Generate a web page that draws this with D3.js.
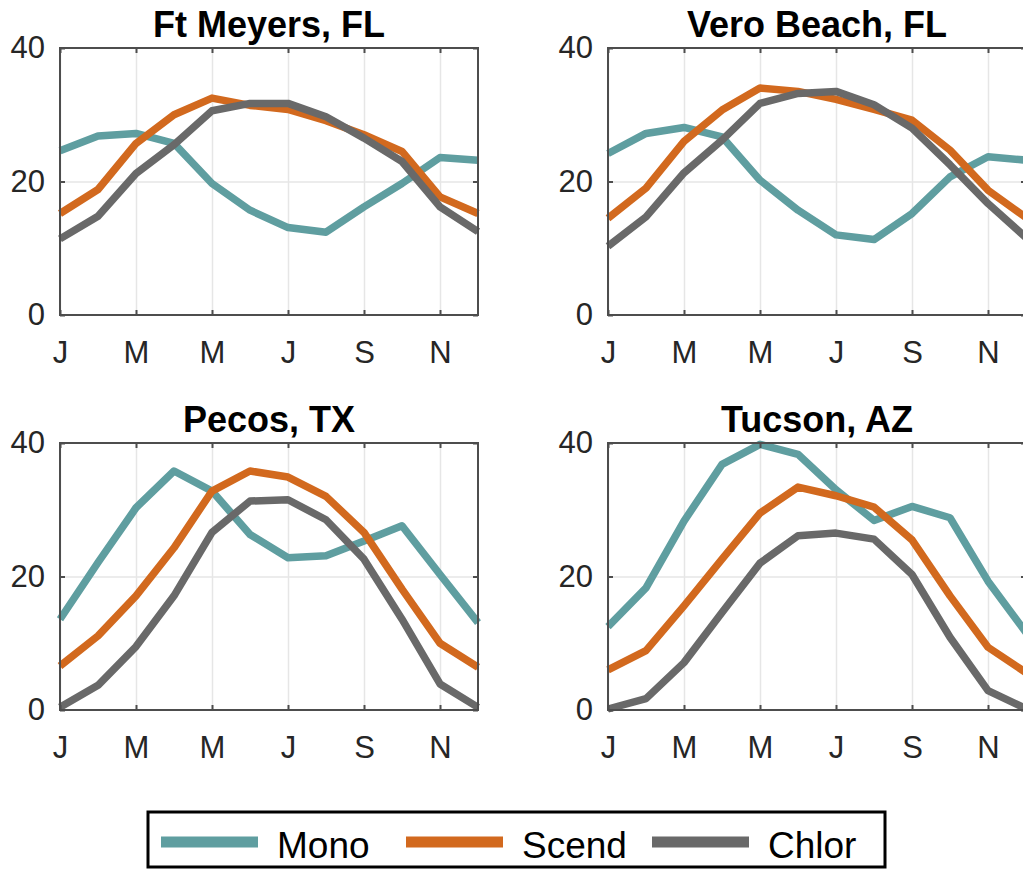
<!DOCTYPE html>
<html>
<head>
  <script src="https://d3js.org/d3.v7.min.js"></script>
  <title>Monthly series by station</title>
  <style>
  body { margin: 0; background: white; }
  svg { display: block; font-family: "Liberation Sans", Arial, Helvetica, sans-serif; }
  </style>
</head>
<body>
<svg id="chart" width="1023" height="869"></svg>
<script>
// data
var months = [1,2,3,4,5,6,7,8,9,10,11,12];
var monthTicks = [1,3,5,7,9,11];
var monthLabels = ["J","M","M","J","S","N"];
var yTicks = [0,20,40];
var stations = ["Ft Meyers, FL", "Vero Beach, FL", "Pecos, TX", "Tucson, AZ"];
var seriesNames = ["Mono", "Scend", "Chlor"];

var ftMeyersMono  = [24.6, 26.8, 27.2, 25.7, 19.7, 15.7, 13.1, 12.4, 16.2, 19.7, 23.6, 23.2];
var ftMeyersScend = [15.2, 18.8, 25.7, 30.0, 32.5, 31.4, 30.8, 29.1, 27.0, 24.5, 17.7, 15.2];
var ftMeyersChlor = [11.4, 14.8, 21.2, 25.5, 30.6, 31.7, 31.7, 29.7, 26.5, 23.0, 16.2, 12.5];

var veroMono  = [24.2, 27.2, 28.1, 26.7, 20.2, 15.7, 12.0, 11.3, 15.2, 20.7, 23.7, 23.2];
var veroScend = [14.5, 19.0, 26.0, 30.7, 34.0, 33.5, 32.3, 30.8, 29.2, 24.7, 18.7, 14.6];
var veroChlor = [10.3, 14.7, 21.3, 26.2, 31.7, 33.2, 33.5, 31.5, 28.0, 22.5, 16.7, 11.6];

var pecosMono  = [13.6, 22.1, 30.3, 35.8, 32.8, 26.3, 22.8, 23.1, 25.3, 27.6, 20.3, 13.1];
var pecosScend = [6.6, 11.1, 17.1, 24.3, 32.8, 35.8, 34.9, 32.0, 26.6, 18.1, 10.0, 6.4];
var pecosChlor = [0.4, 3.7, 9.5, 17.1, 26.6, 31.3, 31.5, 28.5, 22.6, 13.6, 3.9, 0.4];

var tucsonMono  = [12.5, 18.3, 28.3, 36.8, 39.8, 38.3, 33.0, 28.4, 30.5, 28.8, 19.3, 11.6];
var tucsonScend = [6.0, 8.9, 15.6, 22.6, 29.5, 33.4, 32.1, 30.4, 25.5, 17.1, 9.4, 5.6];
var tucsonChlor = [0.15, 1.7, 7.1, 14.6, 22.0, 26.1, 26.5, 25.6, 20.3, 10.9, 2.9, 0.2];

var colors = ["#5F9EA0", "#D2691E", "#696969"];

// layout
var pw = 418, ph = 267;
var panels = [
  {title: stations[0], series: [ftMeyersMono, ftMeyersScend, ftMeyersChlor], x0: 60,  y0: 48},
  {title: stations[1], series: [veroMono, veroScend, veroChlor],             x0: 608, y0: 48},
  {title: stations[2], series: [pecosMono, pecosScend, pecosChlor],          x0: 60,  y0: 443},
  {title: stations[3], series: [tucsonMono, tucsonScend, tucsonChlor],       x0: 608, y0: 443}
];

var svg = d3.select("#chart");

var xs = d3.scaleLinear().domain([1,12]).range([0,pw]);
var ys = d3.scaleLinear().domain([0,40]).range([ph,0]);

panels.forEach(function(p) {
  var g = svg.append("g").attr("transform", "translate(" + p.x0 + "," + p.y0 + ")");

  // grid
  g.append("g")
    .attr("transform", "translate(0," + ph + ")")
    .call(d3.axisBottom(xs).tickValues(monthTicks).tickSize(-ph).tickFormat(""))
    .call(function(a){ a.select(".domain").remove(); })
    .selectAll("line").attr("stroke", "#e6e6e6").attr("stroke-width", 1.5);
  g.append("g")
    .call(d3.axisLeft(ys).tickValues([20]).tickSize(-pw).tickFormat(""))
    .call(function(a){ a.select(".domain").remove(); })
    .selectAll("line").attr("stroke", "#e6e6e6").attr("stroke-width", 1.5);

  // lines
  var line = d3.line()
    .x(function(d, i){ return xs(months[i]); })
    .y(function(d){ return ys(d); });
  p.series.forEach(function(s, k) {
    g.append("path")
      .datum(s)
      .attr("d", line)
      .attr("fill", "none")
      .attr("stroke", colors[k])
      .attr("stroke-width", 7.5)
      .attr("stroke-linejoin", "round");
  });

  // box
  g.append("rect")
    .attr("width", pw).attr("height", ph)
    .attr("fill", "none").attr("stroke", "#4d4d4d").attr("stroke-width", 2);

  // axes with inward ticks
  var xa = g.append("g")
    .attr("transform", "translate(0," + ph + ")")
    .call(d3.axisBottom(xs).tickValues(monthTicks)
      .tickFormat(function(d, i){ return monthLabels[i]; })
      .tickSizeInner(-5).tickSizeOuter(0).tickPadding(26));
  g.append("g")
    .call(d3.axisTop(xs).tickValues(monthTicks).tickFormat("").tickSizeInner(-5).tickSizeOuter(0));
  var ya = g.append("g")
    .call(d3.axisLeft(ys).tickValues(yTicks).tickSizeInner(-5).tickSizeOuter(0).tickPadding(15));
  g.append("g")
    .attr("transform", "translate(" + pw + ",0)")
    .call(d3.axisRight(ys).tickValues(yTicks).tickFormat("").tickSizeInner(-5).tickSizeOuter(0));

  g.selectAll(".domain").remove();
  g.selectAll(".tick line").filter(function(){ return d3.select(this).attr("stroke") === "currentColor"; })
    .attr("stroke", "#4d4d4d").attr("stroke-width", 2);
  [xa, ya].forEach(function(a) {
    a.selectAll("text")
      .attr("fill", "#262626")
      .style("font-size", "31px")
      .style("font-family", "Liberation Sans, Arial, sans-serif");
  });

  // title
  g.append("text")
    .attr("x", pw / 2)
    .attr("y", -11)
    .attr("text-anchor", "middle")
    .style("font-size", "36px")
    .style("font-weight", "bold")
    .attr("fill", "#000")
    .text(p.title);
});

// legend
var leg = svg.append("g").attr("transform", "translate(148,812)");
leg.append("rect")
  .attr("width", 737).attr("height", 55)
  .attr("fill", "white").attr("stroke", "#000").attr("stroke-width", 3);
var entryX = [13, 258, 504];
seriesNames.forEach(function(name, k) {
  var e = leg.append("g").attr("transform", "translate(" + entryX[k] + ",0)");
  e.append("line")
    .attr("x1", 0).attr("x2", 97)
    .attr("y1", 30).attr("y2", 30)
    .attr("stroke", colors[k]).attr("stroke-width", 11);
  e.append("text")
    .attr("x", 116).attr("y", 46)
    .style("font-size", "37px")
    .attr("fill", "#000")
    .text(name);
});
</script>
</body>
</html>
